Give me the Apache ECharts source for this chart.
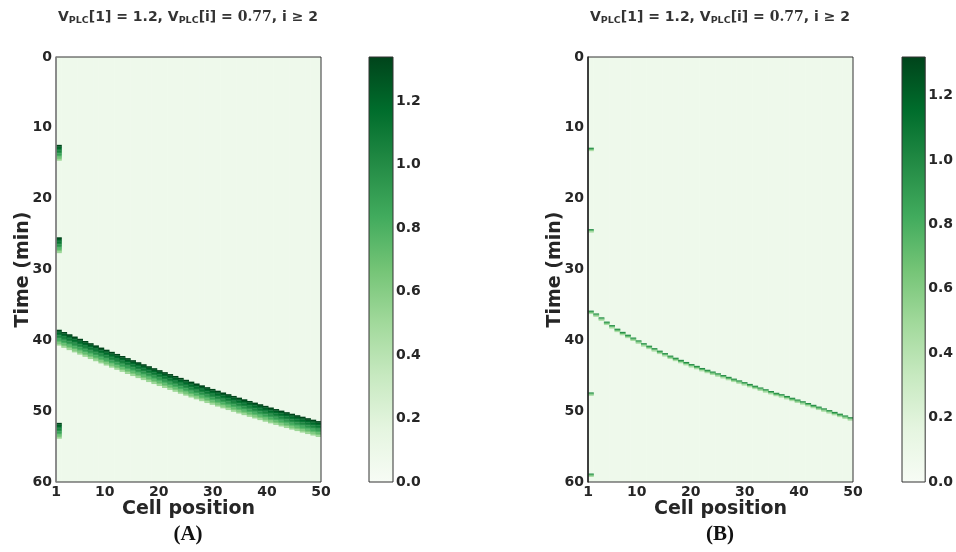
<!DOCTYPE html>
<html>
<head>
<meta charset="utf-8">
<title>PLC heatmaps</title>
<script src="https://cdn.jsdelivr.net/npm/echarts@6/dist/echarts.min.js"></script>
<style>
    html, body { margin: 0; padding: 0; background: #fff; }
    #chart { width: 956px; height: 552px; }
</style>
</head>
<body>
<div id="chart"></div>
<script>
// 细胞数
const cellCount = 50;

// 各细胞的波到达时间 (min)
const waveOnsetA = [38.50, 38.82, 39.14, 39.46, 39.78, 40.09, 40.40, 40.71, 41.02, 41.32,
    41.62, 41.92, 42.21, 42.51, 42.80, 43.09, 43.37, 43.65, 43.93, 44.21,
    44.49, 44.76, 45.03, 45.30, 45.57, 45.83, 46.09, 46.35, 46.61, 46.86,
    47.11, 47.36, 47.60, 47.85, 48.09, 48.32, 48.56, 48.79, 49.02, 49.25,
    49.48, 49.70, 49.92, 50.14, 50.36, 50.57, 50.78, 50.99, 51.20, 51.40];
const waveOnsetB = [35.80, 36.20, 36.75, 37.35, 37.85, 38.35, 38.80, 39.20, 39.60, 40.00,
    40.40, 40.75, 41.10, 41.45, 41.80, 42.15, 42.45, 42.75, 43.05, 43.35,
    43.60, 43.90, 44.15, 44.40, 44.65, 44.90, 45.15, 45.40, 45.65, 45.90,
    46.15, 46.40, 46.65, 46.90, 47.15, 47.40, 47.60, 47.85, 48.10, 48.35,
    48.60, 48.85, 49.10, 49.35, 49.60, 49.85, 50.10, 50.35, 50.60, 50.85];

// 第 1 个细胞的其余（未传播）脉冲时间
const pacerA = [12.4, 25.45, 51.65];
const pacerB = [12.8, 24.3, 47.35, 58.8];

// 脉冲形状：起始后每个时间步的数值
const profileA = [1.34, 1.25, 1.18, 1.12, 1.05, 0.98, 0.9, 0.82, 0.74, 0.64, 0.52];
const profileB = [0.98, 0.75, 0.45];
const stepA = 0.2;
const stepB = 0.15;

// 静息水平与色标上限
const baseLevel = 0.08;
const cmaxA = 1.34;
const cmaxB = 1.32;

// 坐标轴刻度
const xTicks = [1, 10, 20, 30, 40, 50];
const cbarTicks = [0, 0.2, 0.4, 0.6, 0.8, 1.0, 1.2];

const greens = ['#f7fcf5', '#e5f5e0', '#c7e9c0', '#a1d99b', '#74c476', '#41ab5d', '#238b45', '#006d2c', '#00441b'];

// 生成每个格子 [细胞, t0, t1, 值]
function buildCells(onsets, pacer, profile, step) {
    var out = [];
    for (var c = 1; c <= cellCount; c++) {
        out.push([c, 0, 60, baseLevel]);
    }
    function addPulse(cell, t) {
        for (var k = 0; k < profile.length; k++) {
            var t0 = t + k * step;
            var t1 = Math.min(60, t0 + step);
            if (t0 < 60) out.push([cell, t0, t1, profile[k]]);
        }
    }
    pacer.forEach(function (t) { addPulse(1, t); });
    onsets.forEach(function (t, i) { addPulse(i + 1, t); });
    return out;
}

var dataA = buildCells(waveOnsetA, pacerA, profileA, stepA);
var dataB = buildCells(waveOnsetB, pacerB, profileB, stepB);

function renderCell(params, api) {
    var c = api.value(0);
    var w = (xTicks[xTicks.length - 1] - xTicks[0]) / cellCount;
    var p0 = api.coord([1 + (c - 1) * w, api.value(1)]);
    var p1 = api.coord([1 + c * w, api.value(2)]);
    var rect = echarts.graphic.clipRectByRect({
        x: p0[0], y: p0[1],
        width: p1[0] - p0[0] + 0.5,
        height: p1[1] - p0[1] + 0.3
    }, {
        x: params.coordSys.x, y: params.coordSys.y,
        width: params.coordSys.width, height: params.coordSys.height
    });
    return rect && {
        type: 'rect',
        shape: rect,
        style: { fill: api.visual('color') }
    };
}

const textColor = '#262626';
const tickFont = { fontFamily: 'DejaVu Sans', fontWeight: 'bold', fontSize: 14, color: textColor };
const nameFont = { fontFamily: 'DejaVu Sans', fontWeight: 'bold', fontSize: 19, color: textColor };

function plotGrid(left) {
    return { left: left, top: 57, width: 265, height: 425, show: true, z: 10,
        borderColor: '#333', borderWidth: 1, backgroundColor: 'transparent' };
}
function cbarGrid(left) {
    return { left: left, top: 57, width: 24, height: 425, show: true, z: 10,
        borderColor: '#333', borderWidth: 1, backgroundColor: 'transparent' };
}

function plotX(idx) {
    return {
        type: 'value', gridIndex: idx, min: 1, max: 50,
        name: 'Cell position', nameLocation: 'middle', nameGap: 18, nameMoveOverlap: false,
        nameTextStyle: nameFont,
        axisLine: { show: false }, axisTick: { show: false }, splitLine: { show: false },
        axisLabel: Object.assign({ customValues: xTicks, margin: 3 }, tickFont)
    };
}
function plotY(idx, lineColor) {
    return {
        type: 'value', gridIndex: idx, min: 0, max: 60, interval: 10, inverse: true,
        name: 'Time (min)', nameLocation: 'middle', nameGap: 23, nameMoveOverlap: false,
        nameTextStyle: nameFont,
        axisLine: { show: true, lineStyle: { color: lineColor, width: 1.5 } }, z: 11,
        axisTick: { show: false }, splitLine: { show: false },
        axisLabel: Object.assign({ margin: 4 }, tickFont)
    };
}
function cbarX(idx) {
    return { type: 'category', gridIndex: idx, data: ['c'], show: false };
}
function cbarY(idx, cmax) {
    return {
        type: 'value', gridIndex: idx, min: 0, max: cmax, position: 'right',
        axisLine: { show: false }, axisTick: { show: false }, splitLine: { show: false },
        axisLabel: Object.assign({
            customValues: cbarTicks, margin: 3,
            formatter: function (v) { return v.toFixed(1); }
        }, tickFont)
    };
}

function gradient() {
    var stops = greens.map(function (col, i) {
        return { offset: 1 - i / (greens.length - 1), color: col };
    }).reverse();
    return new echarts.graphic.LinearGradient(0, 0, 0, 1, stops);
}

function titleText(x) {
    return {
        type: 'text', x: x, y: 7, silent: true,
        style: {
            text: '{b|V}{s|PLC}{b|[1] = 1.2, V}{s|PLC}{b|[i] = }{m|0.77}{b|, i ≥ 2}',
            textAlign: 'center',
            textVerticalAlign: 'top',
            rich: {
                b: { fontFamily: 'DejaVu Sans', fontWeight: 'bold', fontSize: 14, lineHeight: 20, fill: '#333', verticalAlign: 'middle' },
                s: { fontFamily: 'DejaVu Sans', fontWeight: 'bold', fontSize: 9.5, lineHeight: 20, fill: '#333', verticalAlign: 'bottom', padding: [0, 0, 1, 0] },
                m: { fontFamily: 'DejaVu Serif', fontWeight: 'bold', fontSize: 14, lineHeight: 20, fill: '#333', verticalAlign: 'middle' }
            }
        }
    };
}

var myChart = echarts.init(document.getElementById('chart'));

var option = {
    animation: false,
    backgroundColor: '#ffffff',
    grid: [plotGrid(56), cbarGrid(369), plotGrid(588), cbarGrid(902)],
    xAxis: [plotX(0), cbarX(1), plotX(2), cbarX(3)],
    yAxis: [plotY(0, '#888'), cbarY(1, cmaxA), plotY(2, '#222'), cbarY(3, cmaxB)],
    visualMap: [
        { type: 'continuous', show: false, min: 0, max: cmaxA, dimension: 3, seriesIndex: 0, inRange: { color: greens } },
        { type: 'continuous', show: false, min: 0, max: cmaxB, dimension: 3, seriesIndex: 2, inRange: { color: greens } }
    ],
    series: [
        { type: 'custom', xAxisIndex: 0, yAxisIndex: 0, renderItem: renderCell, data: dataA, silent: true },
        { type: 'bar', xAxisIndex: 1, yAxisIndex: 1, data: [cmaxA], barCategoryGap: '0%', silent: true,
            itemStyle: { color: gradient() } },
        { type: 'custom', xAxisIndex: 2, yAxisIndex: 2, renderItem: renderCell, data: dataB, silent: true },
        { type: 'bar', xAxisIndex: 3, yAxisIndex: 3, data: [cmaxB], barCategoryGap: '0%', silent: true,
            itemStyle: { color: gradient() } }
    ],
    graphic: [
        titleText(188),
        titleText(720),
        { type: 'text', x: 188, y: 524, silent: true, style: { text: '(A)', textAlign: 'center', fontFamily: 'Liberation Serif', fontWeight: 'bold', fontSize: 21, fill: '#111' } },
        { type: 'text', x: 720, y: 524, silent: true, style: { text: '(B)', textAlign: 'center', fontFamily: 'Liberation Serif', fontWeight: 'bold', fontSize: 21, fill: '#111' } }
    ]
};

myChart.setOption(option);
</script>
</body>
</html>
